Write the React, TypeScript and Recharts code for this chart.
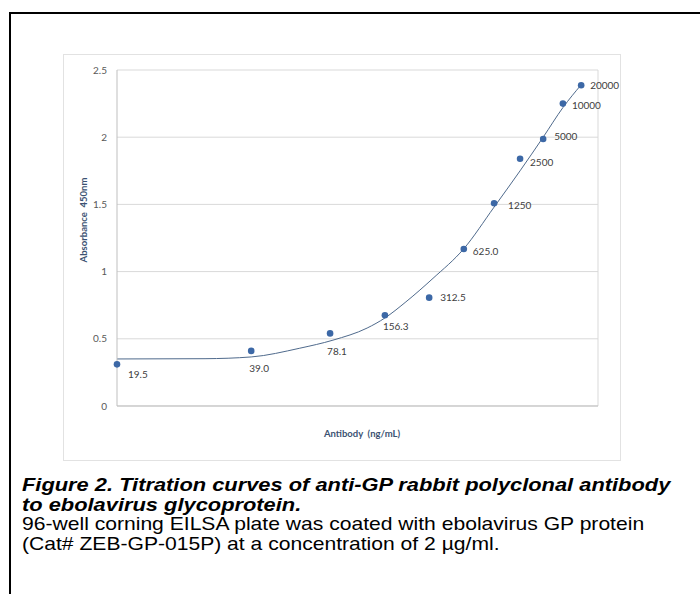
import React from 'react';
import { ComposedChart, Scatter, Line, XAxis, YAxis, CartesianGrid, ReferenceLine } from 'recharts';

// ---- data ----
const concentrationLabels = ['19.5', '39.0', '78.1', '156.3', '312.5', '625.0', '1250', '2500', '5000', '10000', '20000'];
// horizontal position of each point on the (unlabelled) x axis, 0..100 units
const pointX = [0, 27.9, 44.3, 55.7, 64.9, 72.1, 78.4, 83.8, 88.6, 92.7, 96.5];
const absorbance = [0.31, 0.41, 0.54, 0.675, 0.806, 1.168, 1.508, 1.84, 1.987, 2.25, 2.386];

// trend curve
const trendX = [0, 18.3, 27.9, 38.0, 44.9, 52.0, 55.7, 59.9, 65.7, 72.1, 78.4, 83.8, 88.6, 92.7, 96.5];
const trendY = [0.35, 0.352, 0.365, 0.43, 0.49, 0.58, 0.655, 0.77, 0.95, 1.17, 1.48, 1.75, 2.0, 2.22, 2.39];

const yTicks = [0, 0.5, 1, 1.5, 2, 2.5];

const captionTitle = ['Figure 2. Titration curves of anti-GP rabbit polyclonal antibody', 'to ebolavirus glycoprotein.'];
const captionBody = ['96-well corning EILSA plate was coated with ebolavirus GP protein', '(Cat# ZEB-GP-015P) at a concentration of 2 µg/ml.'];

// label placement (style), per point: [dx, dy]
const labelOffsets: [number, number][] = [
  [11, 10], [-2, 18], [-3, 18], [-2, 11], [11, 0], [9, 2], [14, 2], [10, 4], [11, -2], [9, 2], [9, 0],
];

const points = pointX.map((x, i) => ({ x, y: absorbance[i], label: concentrationLabels[i], i }));
const trend = trendX.map((x, i) => ({ x, y: trendY[i] }));

const FONT = 'Lato, "Open Sans", sans-serif';
const CAPTION_FONT = '"Liberation Sans", Arial, sans-serif';

const PointShape = (props: any) => {
  const { cx, cy } = props;
  const p = props.payload || {};
  const off = labelOffsets[p.i] || [10, 0];
  return (
    <g>
      <circle cx={cx} cy={cy} r={3.3} fill="#3C68A6" />
      <text x={cx + off[0]} y={cy + off[1]} dy="0.35em" fontSize={10} fill="#404040" fontFamily={FONT}>
        {p.label}
      </text>
    </g>
  );
};

export default function App() {
  return (
    <div style={{ position: 'absolute', left: 0, top: 0, width: 700, height: 594, background: '#fff', overflow: 'hidden' }}>
      {/* frame */}
      <div style={{ position: 'absolute', left: 9, top: 12, width: 700, height: 600, borderTop: '2px solid #000', borderLeft: '2px solid #000', boxSizing: 'border-box' }} />
      {/* chart box */}
      <div style={{ position: 'absolute', left: 63, top: 54, width: 558, height: 407, border: '1px solid #e2e2e2', boxSizing: 'border-box' }} />
      <div style={{ position: 'absolute', left: 0, top: 0 }}>
        <ComposedChart width={700} height={594} margin={{ top: 70, right: 102, bottom: 188, left: 87 }}>
          <CartesianGrid vertical={false} stroke="#d9d9d9" />
          <XAxis type="number" dataKey="x" domain={[0, 100]} hide />
          <YAxis
            type="number"
            domain={[0, 2.5]}
            ticks={yTicks}
            width={30}
            tickSize={8}
            tickMargin={2}
            tickLine={false}
            axisLine={{ stroke: '#bfbfbf' }}
            tick={{ fill: '#595959', fontSize: 10, fontFamily: FONT }}
          />
          <ReferenceLine x={100} stroke="#d9d9d9" />
          <ReferenceLine y={0} stroke="#bfbfbf" />
          <Line data={trend} dataKey="y" type="monotone" stroke="#4F6A8C" strokeWidth={1} dot={false} isAnimationActive={false} />
          <Scatter data={points} dataKey="y" shape={PointShape} isAnimationActive={false} />
        </ComposedChart>
      </div>
      {/* axis titles */}
      <div style={{ position: 'absolute', left: 83, top: 220, transform: 'translate(-50%, -50%) rotate(-90deg)', whiteSpace: 'nowrap', fontFamily: FONT, fontWeight: 700, fontSize: 9.5, color: '#3B5272' }}>
        Absorbance&nbsp;&nbsp;450nm
      </div>
      <div style={{ position: 'absolute', left: 362, top: 433, transform: 'translate(-50%, -50%)', whiteSpace: 'nowrap', fontFamily: FONT, fontWeight: 700, fontSize: 9.5, color: '#3B5272' }}>
        Antibody&nbsp;&nbsp;(ng/mL)
      </div>
      {/* caption */}
      <div style={{ position: 'absolute', left: 22, top: 475, fontFamily: CAPTION_FONT, fontSize: 19, lineHeight: '19.5px', color: '#000', whiteSpace: 'nowrap' }}>
        {captionTitle.map((t, i) => (
          <div key={'t' + i} style={{ fontWeight: 700, fontStyle: 'italic', transform: 'scaleX(1.15)', transformOrigin: 'left top' }}>{t}</div>
        ))}
        {captionBody.map((t, i) => (
          <div key={'b' + i} style={{ transform: 'scaleX(1.11)', transformOrigin: 'left top' }}>{t}</div>
        ))}
      </div>
    </div>
  );
}
